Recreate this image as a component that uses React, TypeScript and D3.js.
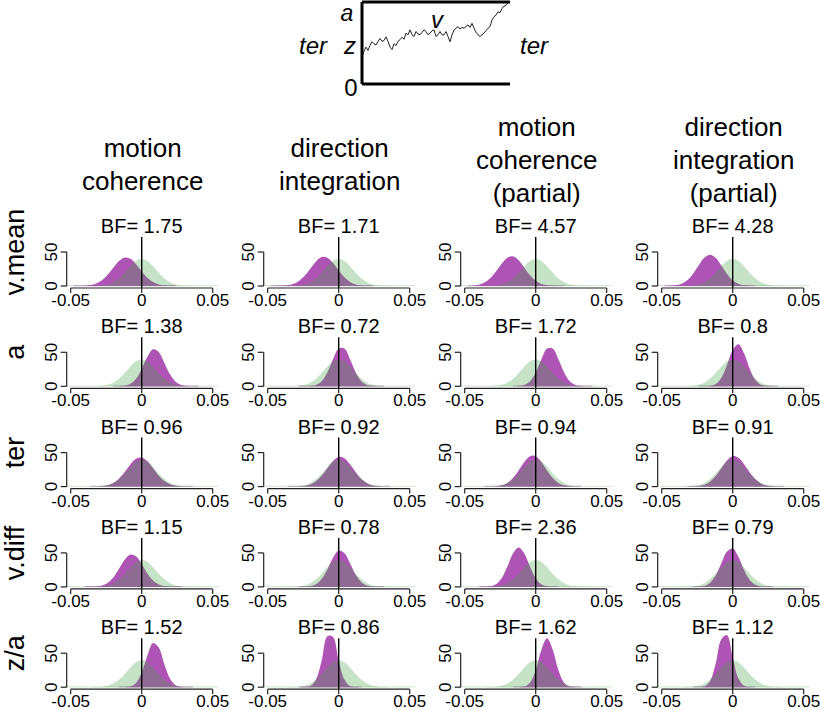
import React from 'react';
import * as d3 from 'd3';

// ---------- data ----------
const rowLabels = ['v.mean', 'a', 'ter', 'v.diff', 'z/a'];
const colTitles = [
  ['motion', 'coherence'],
  ['direction', 'integration'],
  ['motion', 'coherence', '(partial)'],
  ['direction', 'integration', '(partial)'],
];
const bfValues = [
  ['1.75', '1.71', '4.57', '4.28'],
  ['1.38', '0.72', '1.72', '0.8'],
  ['0.96', '0.92', '0.94', '0.91'],
  ['1.15', '0.78', '2.36', '0.79'],
  ['1.52', '0.86', '1.62', '1.12'],
];
const xTicks = [-0.05, 0, 0.05];
const xTickLabels = ['-0.05', '0', '0.05'];
const yTicks = [0, 50];

// density evaluation grid (effect size)
const gridX = [
  -0.048, -0.044, -0.04, -0.036, -0.032, -0.028, -0.024, -0.02, -0.016, -0.012, -0.008, -0.004,
  0, 0.004, 0.008, 0.012, 0.016, 0.02, 0.024, 0.028, 0.032, 0.036, 0.04, 0.044, 0.048,
];
// prior (green), same in every panel
const priorDensity = [0, 0, 0, 0.06, 0.24, 0.8, 2.2, 5.4, 11.1, 19.4, 29.0, 36.8, 39.9, 36.8, 29.0, 19.4, 11.1, 5.4, 2.2, 0.8, 0.24, 0.06, 0, 0, 0];

// posterior (purple) — rows: v.mean, a, ter, v.diff, z/a ; cols: 4 conditions
const postVMean = [
  [0, 0.1, 0.4, 1.3, 3.6, 8.4, 16.4, 26.8, 36.6, 41.8, 39.9, 32.0, 21.5, 12.1, 5.7, 2.2, 0.7, 0.2, 0, 0, 0, 0, 0, 0, 0],
  [0, 0.1, 0.3, 1.0, 3.0, 7.3, 15.0, 25.5, 36.1, 42.5, 41.5, 33.7, 22.7, 12.7, 5.9, 2.3, 0.7, 0.2, 0, 0, 0, 0, 0, 0, 0],
  [0.1, 0.5, 1.8, 5.0, 11.3, 21.2, 32.7, 41.7, 43.7, 37.8, 27.0, 15.8, 7.7, 3.0, 1.0, 0.3, 0.1, 0, 0, 0, 0, 0, 0, 0, 0],
  [0, 0.3, 1.0, 3.3, 8.5, 17.8, 30.1, 41.4, 46, 41.4, 30.1, 17.8, 8.5, 3.3, 1.0, 0.3, 0, 0, 0, 0, 0, 0, 0, 0, 0],
];
const postA = [
  [0, 0, 0, 0, 0, 0, 0, 0, 0.1, 0.8, 3.6, 11.1, 25.5, 43.3, 54.5, 50.6, 34.4, 17.3, 6.4, 1.8, 0.4, 0.1, 0, 0, 0],
  [0, 0, 0, 0, 0, 0, 0.05, 0.4, 1.9, 7.4, 20.3, 39.7, 55.6, 55.6, 39.7, 20.3, 7.4, 1.9, 0.4, 0.05, 0, 0, 0, 0, 0],
  [0, 0, 0, 0, 0, 0, 0, 0, 0, 0.4, 1.9, 7.4, 20.3, 39.7, 55.6, 55.6, 39.7, 20.3, 7.4, 1.9, 0.4, 0.05, 0, 0, 0],
  [0, 0, 0, 0, 0, 0, 0, 0.1, 0.6, 3.3, 12.3, 31.3, 53.3, 61.8, 48.5, 25.6, 9.2, 2.2, 0.4, 0.05, 0, 0, 0, 0, 0],
];
const postTer = [
  [0, 0, 0, 0, 0.2, 0.6, 2.0, 5.4, 11.7, 21.4, 32.5, 40.9, 42.7, 37.2, 26.9, 16.1, 8.1, 3.3, 1.2, 0.3, 0.1, 0, 0, 0, 0],
  [0, 0, 0, 0, 0.1, 0.3, 1.0, 3.0, 7.7, 15.8, 27.0, 37.8, 43.7, 41.7, 32.7, 21.2, 11.3, 5.0, 1.8, 0.5, 0.1, 0, 0, 0, 0],
  [0, 0, 0, 0, 0.1, 0.5, 1.9, 5.4, 12.6, 23.7, 36.2, 44.8, 44.8, 36.2, 23.7, 12.6, 5.4, 1.9, 0.5, 0.1, 0, 0, 0, 0, 0],
  [0, 0, 0, 0, 0, 0.2, 0.9, 2.8, 7.3, 15.5, 27.0, 38.5, 44.7, 42.5, 32.9, 20.8, 10.8, 4.6, 1.6, 0.5, 0.1, 0, 0, 0, 0],
];
const postVDiff = [
  [0, 0, 0, 0.1, 0.5, 2.0, 5.9, 14.0, 26.7, 40.1, 47.7, 45.0, 33.7, 19.8, 9.3, 3.5, 1.0, 0.2, 0.05, 0, 0, 0, 0, 0, 0],
  [0, 0, 0, 0, 0, 0, 0.2, 1.0, 3.8, 11.5, 25.7, 42.9, 53.5, 49.7, 34.4, 17.8, 6.9, 2.0, 0.4, 0.1, 0, 0, 0, 0, 0],
  [0, 0, 0, 0.1, 0.9, 3.9, 12.8, 29.6, 49.0, 58, 49.0, 29.6, 12.8, 3.9, 0.9, 0.1, 0, 0, 0, 0, 0, 0, 0, 0, 0],
  [0, 0, 0, 0, 0, 0, 0.3, 1.4, 5.8, 16.6, 34.6, 52.0, 56.4, 44.3, 24.8, 10.1, 3.0, 0.6, 0.1, 0, 0, 0, 0, 0, 0],
];
const postZA = [
  [0, 0, 0, 0, 0, 0, 0, 0, 0, 0.1, 1.2, 6.3, 21.5, 46.7, 65.1, 58.2, 33.3, 12.4, 2.9, 0.4, 0.05, 0, 0, 0, 0],
  [0, 0, 0, 0, 0, 0, 0.2, 1.8, 11.4, 38.8, 75, 74, 38.8, 11.4, 1.8, 0.2, 0, 0, 0, 0, 0, 0, 0, 0, 0],
  [0, 0, 0, 0, 0, 0, 0, 0, 0, 0.1, 1.0, 6.7, 25.1, 55.2, 72, 55.2, 25.1, 6.7, 1.0, 0.1, 0, 0, 0, 0, 0],
  [0, 0, 0, 0, 0, 0, 0.1, 1.2, 8.8, 34.4, 70.6, 76.5, 43.7, 13.1, 2.1, 0.2, 0, 0, 0, 0, 0, 0, 0, 0, 0],
];
const posteriors = [postVMean, postA, postTer, postVDiff, postZA];

// diffusion sketch: accumulated evidence (0 = lower bound, 1 = a)
const walk = [
  0.33, 0.40, 0.45, 0.41, 0.47, 0.515, 0.49, 0.475, 0.52, 0.555, 0.52, 0.53, 0.575, 0.52, 0.45,
  0.42, 0.49, 0.47, 0.52, 0.54, 0.57, 0.545, 0.62, 0.60, 0.66, 0.60, 0.58, 0.64, 0.61, 0.60,
  0.63, 0.66, 0.64, 0.60, 0.62, 0.65, 0.66, 0.58, 0.60, 0.64, 0.60, 0.60, 0.64, 0.58, 0.515,
  0.60, 0.66, 0.68, 0.70, 0.67, 0.69, 0.68, 0.70, 0.72, 0.69, 0.74, 0.68, 0.63, 0.60, 0.58,
  0.60, 0.62, 0.65, 0.68, 0.70, 0.78, 0.82, 0.84, 0.88, 0.87, 0.92, 0.95, 0.96, 0.99, 1.0,
];

// ---------- layout ----------
const W = 820;
const H = 710;
const FONT = '"Liberation Sans", Arial, Helvetica, sans-serif';
const colZero = [141.7, 338.7, 535.7, 732.7];
const rowBase = [286, 386.3, 486.6, 586.9, 687.2];
const HALF = 71;
const PURPLE = 'rgb(174,84,180)';
const GREEN = 'rgb(68,163,68)';

function Panel({ r, c }: { r: number; c: number }) {
  const cx = colZero[c];
  const y0 = rowBase[r];
  const x = d3.scaleLinear().domain([-0.05, 0.05]).range([cx - HALF, cx + HALF]);
  const y = d3.scaleLinear().domain([0, 50]).range([y0, y0 - 34]);
  const area = d3
    .area<[number, number]>()
    .x((d) => x(d[0]))
    .y0(y(0))
    .y1((d) => Math.min(y(0), y(d[1])))
    .curve(d3.curveCatmullRom.alpha(0.5));
  const post = posteriors[r][c];
  const postPts: [number, number][] = gridX.map((g, i) => [g, post[i]]);
  const first = Math.max(0, post.findIndex((v) => v > 0) - 1);
  let last = post.length - 1;
  while (last > 0 && post[last] === 0) last--;
  last = Math.min(post.length - 1, last + 1);
  const postTrim = postPts.slice(first, last + 1);
  const priorPts: [number, number][] = gridX.map((g, i) => [g, priorDensity[i]]);
  const ax = cx - 75;
  const axisY = y0 + 2;
  return (
    <g>
      <line x1={x(-0.054)} x2={x(0.054)} y1={y0 - 0.3} y2={y0 - 0.3} stroke="rgb(205,230,205)" strokeWidth={1} />
      <line x1={x(postTrim[0][0])} x2={x(postTrim[postTrim.length - 1][0])} y1={y0 - 0.3} y2={y0 - 0.3} stroke="rgb(190,160,195)" strokeWidth={1} />
      <path d={area(postTrim) || ''} fill={PURPLE} />
      <path d={area(priorPts) || ''} fill={GREEN} fillOpacity={0.3} />
      <line x1={x(0)} x2={x(0)} y1={y0 - 49} y2={axisY} stroke="#000" strokeWidth={1.4} />
      {/* y axis */}
      <line x1={ax} x2={ax} y1={y(0)} y2={y(50)} stroke="#222" strokeWidth={1.2} />
      {yTicks.map((t) => (
        <g key={t}>
          <line x1={ax - 6} x2={ax} y1={y(t)} y2={y(t)} stroke="#222" strokeWidth={1.2} />
          <text
            transform={`translate(${ax - 10},${y(t)}) rotate(-90)`}
            textAnchor="middle"
            fontFamily={FONT}
            fontSize={17}
            fill="#000"
          >
            {t}
          </text>
        </g>
      ))}
      {/* x axis */}
      <line x1={x(-0.05)} x2={x(0.05)} y1={axisY} y2={axisY} stroke="#222" strokeWidth={1.2} />
      {xTicks.map((t, i) => (
        <g key={t}>
          <line x1={x(t)} x2={x(t)} y1={axisY} y2={axisY + 5} stroke="#222" strokeWidth={1.2} />
          <text x={x(t)} y={y0 + 20} textAnchor="middle" fontFamily={FONT} fontSize={17} fill="#000">
            {xTickLabels[i]}
          </text>
        </g>
      ))}
      <text x={cx} y={y0 - 53} textAnchor="middle" fontFamily={FONT} fontSize={20} fill="#000">
        {`BF= ${bfValues[r][c]}`}
      </text>
    </g>
  );
}

function Diagram() {
  const tx = d3.scaleLinear().domain([0, walk.length - 1]).range([362, 510]);
  const vy = d3.scaleLinear().domain([0, 1]).range([84, 2]);
  const line = d3
    .line<number>()
    .x((_, i) => tx(i))
    .y((d) => vy(d));
  return (
    <g fontFamily={FONT}>
      <path d={line(walk) || ''} fill="none" stroke="#222" strokeWidth={1} />
      <line x1={362} x2={362} y1={vy(1)} y2={vy(0)} stroke="#000" strokeWidth={3} />
      <line x1={362} x2={510} y1={vy(1)} y2={vy(1)} stroke="#000" strokeWidth={3} />
      <line x1={362} x2={510} y1={vy(0)} y2={vy(0)} stroke="#000" strokeWidth={3} />
      <text x={347} y={21} fontSize={23} fontStyle="italic" textAnchor="middle">a</text>
      <text x={350} y={54} fontSize={24} fontStyle="italic" textAnchor="middle">z</text>
      <text x={351} y={96} fontSize={24} textAnchor="middle">0</text>
      <text x={313} y={54} fontSize={24} fontStyle="italic" textAnchor="middle">ter</text>
      <text x={534} y={54} fontSize={24} fontStyle="italic" textAnchor="middle">ter</text>
      <text x={437} y={28} fontSize={24} fontStyle="italic" textAnchor="middle">v</text>
    </g>
  );
}

export default function App() {
  return (
    <svg
      width={W}
      height={H}
      viewBox={`0 0 ${W} ${H}`}
      style={{ position: 'absolute', left: 0, top: 0, background: '#fff' }}
    >
      <rect x={0} y={0} width={W} height={H} fill="#fff" />
      <Diagram />
      {colTitles.map((lines, c) => {
        const base = lines.length === 2 ? [157, 190] : [136, 169, 202];
        return lines.map((t, k) => (
          <text key={`${c}-${k}`} x={colZero[c] + 1} y={base[k]} textAnchor="middle" fontFamily={FONT} fontSize={26} fill="#000">
            {t}
          </text>
        ));
      })}
      {rowLabels.map((lab, r) => (
        <text
          key={lab}
          transform={`translate(${24},${rowBase[r] - 34}) rotate(-90)`}
          textAnchor="middle"
          fontFamily={FONT}
          fontSize={27}
          fill="#000"
        >
          {lab}
        </text>
      ))}
      {rowLabels.map((_, r) => colZero.map((_, c) => <Panel key={`${r}-${c}`} r={r} c={c} />))}
    </svg>
  );
}
